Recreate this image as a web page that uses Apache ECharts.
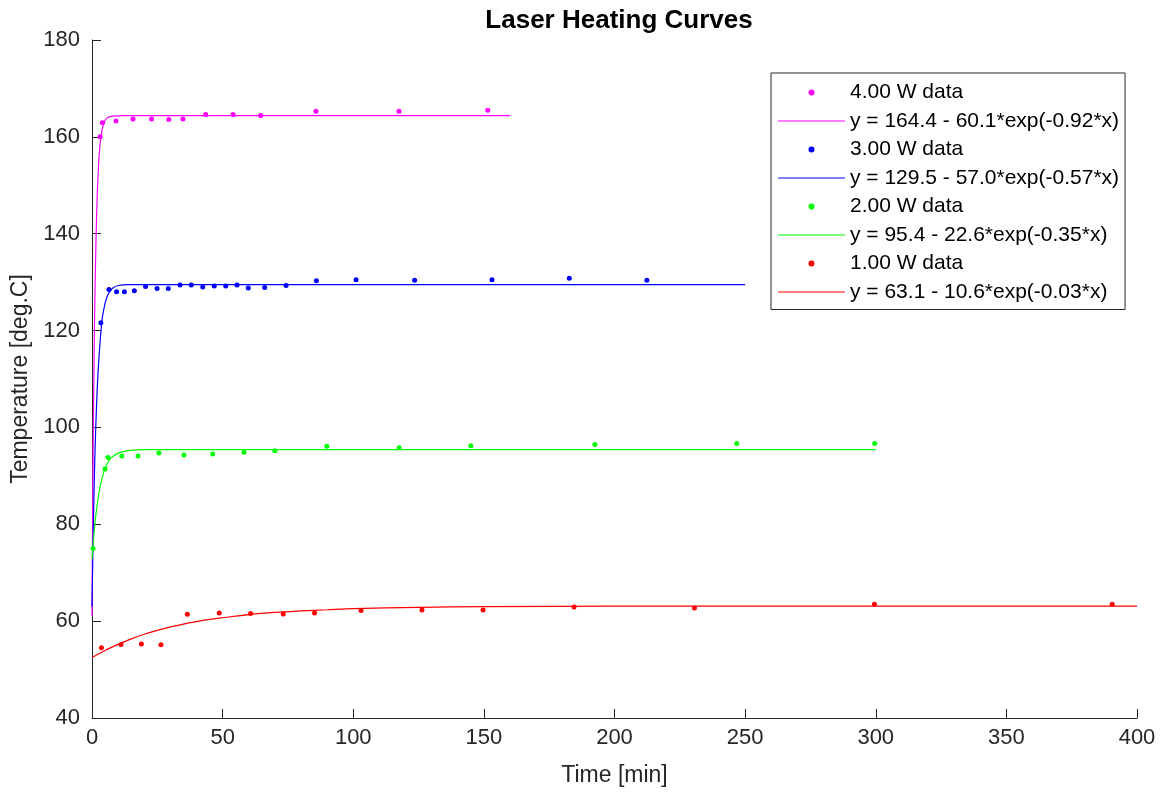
<!DOCTYPE html>
<html>
<head>
<meta charset="utf-8">
<title>Laser Heating Curves</title>
<script src="https://cdn.jsdelivr.net/npm/echarts@6/dist/echarts.min.js"></script>
<style>
  html, body { margin: 0; padding: 0; background: #fff; }
  #chart { width: 1162px; height: 794px; }
</style>
</head>
<body>
<div id="chart"></div>
<script>
// measured points [time min, temp C]
var data4W = [[3.1,160.0],[4.0,162.9],[9.2,163.3],[15.7,163.7],[22.8,163.7],[29.4,163.6],[34.8,163.7],[43.5,164.6],[54.0,164.6],[64.6,164.4],[85.7,165.3],[117.5,165.3],[151.5,165.5]];
var data3W = [[3.4,121.6],[6.5,128.5],[9.4,128.0],[12.4,128.0],[16.2,128.2],[20.5,129.1],[24.9,128.7],[29.2,128.7],[33.7,129.4],[38.0,129.4],[42.4,129.0],[46.8,129.2],[51.2,129.2],[55.5,129.4],[59.8,128.8],[66.1,128.9],[74.3,129.3],[85.9,130.3],[101.1,130.5],[123.5,130.4],[153.1,130.5],[182.7,130.8],[212.4,130.4]];
var data2W = [[0.4,75.0],[5.0,91.4],[6.1,93.8],[11.4,94.1],[17.6,94.1],[25.6,94.7],[35.2,94.3],[46.2,94.5],[58.2,94.9],[70.0,95.2],[89.9,96.1],[117.6,95.8],[145.0,96.2],[192.5,96.5],[246.8,96.7],[299.6,96.7]];
var data1W = [[3.6,54.5],[11.1,55.2],[18.9,55.3],[26.4,55.1],[36.5,61.4],[48.7,61.7],[60.7,61.6],[73.2,61.5],[85.2,61.7],[103.0,62.2],[126.3,62.3],[149.7,62.3],[184.5,62.9],[230.6,62.7],[299.5,63.5],[390.5,63.5]];

// fitted curves
var fit4W = [[0,61],[0.25,82],[0.5,99],[0.75,112],[1,123],[1.5,138],[2,148],[2.5,154],[3,158],[3.5,160.2],[4,161.8],[5,163.4],[6,164.0],[8,164.3],[12,164.4],[160,164.4]];
var fit3W = [[0,63],[0.5,79],[1,92],[1.5,101],[2,108],[2.5,113],[3,117],[3.5,120.3],[4,122.8],[5,125.6],[6,127.3],[7,128.2],[8,128.8],[10,129.3],[14,129.5],[250,129.5]];
var fit2W = [[0,72.8],[1,79.5],[2,84.1],[3,87.5],[4,89.8],[5,91.5],[6,92.7],[7,93.5],[8,94.0],[10,94.7],[12,95.0],[14,95.2],[20,95.4],[300,95.4]];
var fit1W = [[0,52.5],[5,53.95],[10,55.2],[15,56.35],[20,57.3],[25,58.1],[30,58.8],[35,59.4],[40,59.9],[45,60.35],[50,60.7],[60,61.35],[70,61.8],[80,62.1],[90,62.35],[100,62.6],[125,62.85],[150,63.0],[200,63.1],[400,63.1]];

var dataNames = ['4.00 W data', '3.00 W data', '2.00 W data', '1.00 W data'];
var fitNames = [
  'y = 164.4 - 60.1*exp(-0.92*x)',
  'y = 129.5 - 57.0*exp(-0.57*x)',
  'y = 95.4 - 22.6*exp(-0.35*x)',
  'y = 63.1 - 10.6*exp(-0.03*x)'
];
var colors = ['#ff00ff', '#0000ff', '#00ff00', '#ff0000'];

var allData = [data4W, data3W, data2W, data1W];
var allFits = [fit4W, fit3W, fit2W, fit1W];

var series = [];
var legendData = [];
for (var i = 0; i < 4; i++) {
  series.push({
    name: dataNames[i],
    type: 'scatter',
    data: allData[i],
    symbol: 'circle',
    symbolSize: 5,
    itemStyle: { color: colors[i], opacity: 1 },
    z: 3
  });
  series.push({
    name: fitNames[i],
    type: 'line',
    data: allFits[i],
    smooth: 0.3,
    showSymbol: false,
    symbol: 'none',
    lineStyle: { color: colors[i], width: 1.2 },
    itemStyle: { color: colors[i] },
    z: 2
  });
  legendData.push({ name: dataNames[i], icon: 'circle' });
  legendData.push({ name: fitNames[i], icon: 'path://M0,0H67V1.2H0Z' });
}

var axisColor = '#262626';
var option = {
  animation: false,
  backgroundColor: '#fff',
  title: {
    text: 'Laser Heating Curves',
    left: 614,
    textAlign: 'center',
    top: 3,
    textStyle: { fontFamily: 'Liberation Sans', fontWeight: 'bold', fontSize: 26, color: '#000' }
  },
  legend: {
    orient: 'vertical',
    left: 771,
    top: 73,
    data: legendData,
    itemWidth: 67,
    itemHeight: 6,
    itemGap: 7.5,
    itemTextGap: 7,
    padding: [9, 6, 7, 7],
    borderColor: '#262626',
    borderWidth: 1,
    backgroundColor: '#fff',
    selectedMode: false,
    textStyle: { fontFamily: 'Liberation Sans', fontSize: 21, color: '#000', lineHeight: 21 }
  },
  grid: { left: 92, right: 25, top: 40, bottom: 76 },
  xAxis: {
    type: 'value',
    min: 0,
    max: 400,
    interval: 50,
    name: 'Time [min]',
    nameLocation: 'middle',
    nameGap: 46,
    nameTextStyle: { fontFamily: 'Liberation Sans', fontSize: 23, color: axisColor },
    axisLine: { show: true, lineStyle: { color: axisColor, width: 1 } },
    axisTick: { show: true, inside: true, length: 9, lineStyle: { color: axisColor } },
    axisLabel: { fontFamily: 'Liberation Sans', fontSize: 22, color: axisColor, margin: 9 },
    splitLine: { show: false }
  },
  yAxis: {
    type: 'value',
    min: 40,
    max: 180,
    interval: 20,
    name: 'Temperature [deg.C]',
    nameLocation: 'middle',
    nameGap: 58,
    nameTextStyle: { fontFamily: 'Liberation Sans', fontSize: 23, color: axisColor },
    axisLine: { show: true, lineStyle: { color: axisColor, width: 1 } },
    axisTick: { show: true, inside: true, length: 9, lineStyle: { color: axisColor } },
    axisLabel: { fontFamily: 'Liberation Sans', fontSize: 22, color: axisColor, margin: 12 },
    splitLine: { show: false }
  },
  series: series
};

var myChart = echarts.init(document.getElementById('chart'));
myChart.setOption(option);
</script>
</body>
</html>
